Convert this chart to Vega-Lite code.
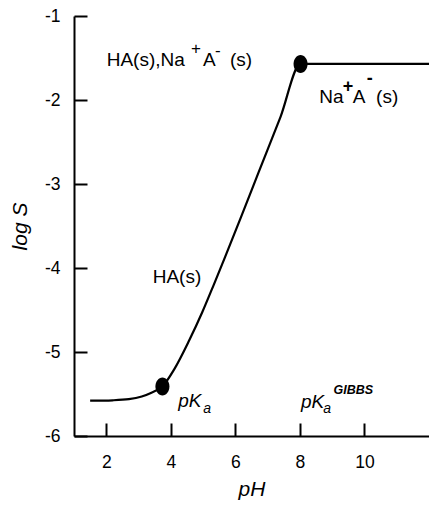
{
  "$schema": "https://vega.github.io/schema/vega-lite/v6.json",
  "width": 355,
  "height": 420,
  "autosize": {"type": "none"},
  "padding": {"left": 74, "top": 16, "right": 0, "bottom": 70},
  "background": "white",
  "config": {
    "view": {"stroke": null},
    "font": "Liberation Sans",
    "axis": {
      "grid": false,
      "domainColor": "black",
      "domainWidth": 2,
      "tickColor": "black",
      "tickWidth": 2,
      "labelFont": "Liberation Sans",
      "labelFontSize": 17.5,
      "labelColor": "black",
      "titleFont": "Liberation Sans",
      "titleFontSize": 21,
      "titleFontStyle": "italic",
      "titleFontWeight": "normal",
      "titleColor": "black"
    }
  },
  "datasets": {
    "curve": [
      {"pH": 1.5, "logS": -5.58},
      {"pH": 2.2, "logS": -5.575},
      {"pH": 2.7, "logS": -5.562},
      {"pH": 3.1, "logS": -5.53},
      {"pH": 3.4, "logS": -5.485},
      {"pH": 3.74, "logS": -5.41},
      {"pH": 4.1, "logS": -5.21},
      {"pH": 4.56, "logS": -4.87},
      {"pH": 4.97, "logS": -4.53},
      {"pH": 5.33, "logS": -4.2},
      {"pH": 5.68, "logS": -3.87},
      {"pH": 6.19, "logS": -3.38},
      {"pH": 6.71, "logS": -2.87},
      {"pH": 7.4, "logS": -2.2},
      {"pH": 8.02, "logS": -1.57},
      {"pH": 12, "logS": -1.57}
    ],
    "points": [
      {"pH": 3.74, "logS": -5.41},
      {"pH": 8.02, "logS": -1.57}
    ],
    "main": [
      {"pH": 2.013, "logS": -1.595, "t": "HA(s),Na"},
      {"pH": 4.997, "logS": -1.595, "t": "A"},
      {"pH": 5.834, "logS": -1.595, "t": "(s)"},
      {"pH": 8.602, "logS": -2.04, "t": "Na"},
      {"pH": 9.64, "logS": -2.04, "t": "A"},
      {"pH": 10.36, "logS": -2.04, "t": "(s)"},
      {"pH": 3.439, "logS": -4.182, "t": "HA(s)"}
    ],
    "sup": [
      {"pH": 4.626, "logS": -1.452, "t": "+"},
      {"pH": 5.369, "logS": -1.476, "t": "-"}
    ],
    "supbold": [
      {"pH": 9.33, "logS": -1.905, "t": "+"},
      {"pH": 10.07, "logS": -1.814, "t": "-"}
    ],
    "pk": [
      {"pH": 4.232, "logS": -5.651, "t": "pK"},
      {"pH": 8.034, "logS": -5.67, "t": "pK"}
    ],
    "sub": [
      {"pH": 5.007, "logS": -5.726, "t": "a"},
      {"pH": 8.72, "logS": -5.726, "t": "a"}
    ],
    "gibbs": [
      {"pH": 9.04, "logS": -5.5, "t": "GIBBS"}
    ]
  },
  "layer": [
    {
      "data": {"name": "curve"},
      "mark": {"type": "line", "color": "black", "strokeWidth": 2.2, "interpolate": "monotone"},
      "encoding": {
        "x": {
          "field": "pH", "type": "quantitative",
          "scale": {"domain": [1, 12], "nice": false, "zero": false},
          "axis": {"values": [2, 4, 6, 8, 10], "tickSize": -13, "labelPadding": 30,
                   "labelExpr": "'' + datum.value", "title": "pH", "titlePadding": 8}
        },
        "y": {
          "field": "logS", "type": "quantitative",
          "scale": {"domain": [-6, -1], "nice": false, "zero": false},
          "axis": {"values": [-6, -5, -4, -3, -2, -1], "tickSize": -13, "labelPadding": 27,
                   "labelExpr": "'' + datum.value", "title": "log  S", "titlePadding": 14}
        }
      }
    },
    {
      "mark": {"type": "rule", "color": "black", "strokeWidth": 2},
      "encoding": {"y": {"datum": -1}}
    },
    {
      "data": {"name": "points"},
      "mark": {"type": "point", "filled": true, "color": "black", "opacity": 1, "size": 324,
               "shape": "M-0.78,0A0.78,1 0 1,0 0.78,0A0.78,1 0 1,0 -0.78,0Z"},
      "encoding": {
        "x": {"field": "pH", "type": "quantitative"},
        "y": {"field": "logS", "type": "quantitative"}
      }
    },
    {
      "data": {"name": "main"},
      "mark": {"type": "text", "align": "left", "baseline": "alphabetic", "fontSize": 19, "font": "Liberation Sans", "color": "black"},
      "encoding": {
        "x": {"field": "pH", "type": "quantitative"},
        "y": {"field": "logS", "type": "quantitative"},
        "text": {"field": "t"}
      }
    },
    {
      "data": {"name": "sup"},
      "mark": {"type": "text", "align": "left", "baseline": "alphabetic", "fontSize": 17, "font": "Liberation Sans", "color": "black"},
      "encoding": {
        "x": {"field": "pH", "type": "quantitative"},
        "y": {"field": "logS", "type": "quantitative"},
        "text": {"field": "t"}
      }
    },
    {
      "data": {"name": "supbold"},
      "mark": {"type": "text", "align": "left", "baseline": "alphabetic", "fontSize": 18, "fontWeight": "bold", "font": "Liberation Sans", "color": "black"},
      "encoding": {
        "x": {"field": "pH", "type": "quantitative"},
        "y": {"field": "logS", "type": "quantitative"},
        "text": {"field": "t"}
      }
    },
    {
      "data": {"name": "pk"},
      "mark": {"type": "text", "align": "left", "baseline": "alphabetic", "fontSize": 19, "fontStyle": "italic", "font": "Liberation Sans", "color": "black"},
      "encoding": {
        "x": {"field": "pH", "type": "quantitative"},
        "y": {"field": "logS", "type": "quantitative"},
        "text": {"field": "t"}
      }
    },
    {
      "data": {"name": "sub"},
      "mark": {"type": "text", "align": "left", "baseline": "alphabetic", "fontSize": 14, "fontStyle": "italic", "font": "Liberation Sans", "color": "black"},
      "encoding": {
        "x": {"field": "pH", "type": "quantitative"},
        "y": {"field": "logS", "type": "quantitative"},
        "text": {"field": "t"}
      }
    },
    {
      "data": {"name": "gibbs"},
      "mark": {"type": "text", "align": "left", "baseline": "alphabetic", "fontSize": 12.5, "fontStyle": "italic", "fontWeight": "bold", "font": "Liberation Sans", "color": "black"},
      "encoding": {
        "x": {"field": "pH", "type": "quantitative"},
        "y": {"field": "logS", "type": "quantitative"},
        "text": {"field": "t"}
      }
    }
  ]
}
